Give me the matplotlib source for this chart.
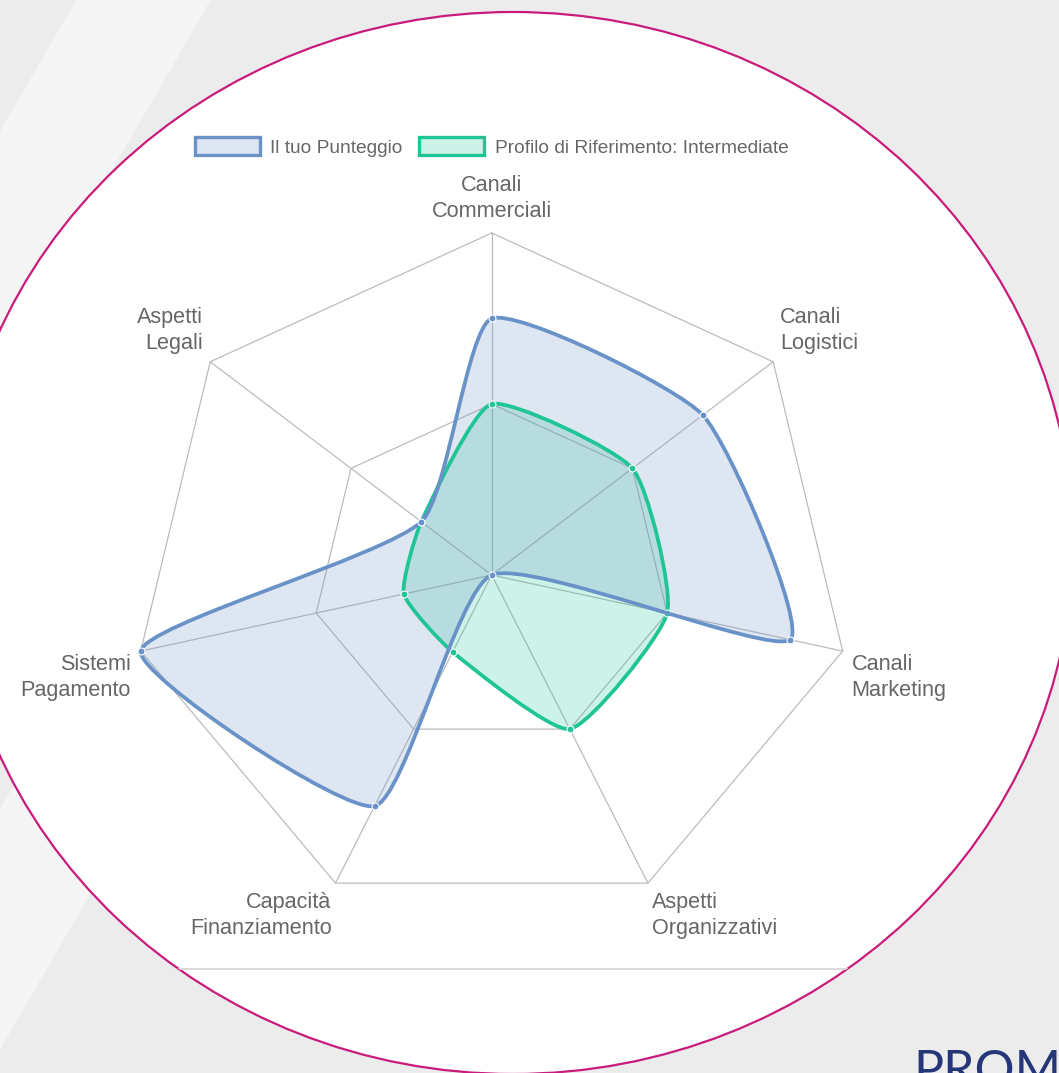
import matplotlib
matplotlib.use("Agg")
import matplotlib.pyplot as plt
from matplotlib.patches import Ellipse, Polygon, PathPatch, Patch
from matplotlib.path import Path
import numpy as np

plt.rcParams["font.family"] = ["Liberation Sans", "DejaVu Sans"]

# --- data -------------------------------------------------------------
CATEGORIES = [
    "Canali\nCommerciali",
    "Canali\nLogistici",
    "Canali\nMarketing",
    "Aspetti\nOrganizzativi",
    "Capacità\nFinanziamento",
    "Sistemi\nPagamento",
    "Aspetti\nLegali",
]
TUO_PUNTEGGIO = [75, 75, 85, 0, 75, 100, 25]
RIFERIMENTO = [50, 50, 50, 50, 25, 25, 25]
RINGS = [50, 100]
SERIES_NAMES = ["Il tuo Punteggio", "Profilo di Riferimento: Intermediate"]

BLUE = "#6892c8"
BLUE_FILL = (0.42, 0.57, 0.78, 0.22)
GREEN = "#1fc595"
GREEN_FILL = (0.12, 0.77, 0.58, 0.22)
GRID = "#bcbcbc"
LABEL = "#666666"

W, H = 1059, 1073
fig = plt.figure(figsize=(W / 100, H / 100), dpi=100)

# --- page background (pixel coordinates) -----------------------------
bg = fig.add_axes([0, 0, 1, 1])
bg.set_xlim(0, W)
bg.set_ylim(H, 0)
bg.axis("off")
bg.add_patch(Polygon([(0, 0), (W, 0), (W, H), (0, H)], color="#ececec", zorder=0))

slope = 0.58
for x0, x1, ytop in [(77, 210, 0), (470, 608, 300)]:
    pts = [(x0 - slope * ytop, ytop), (x1 - slope * ytop, ytop),
           (x1 - slope * H, H), (x0 - slope * H, H)]
    bg.add_patch(Polygon(pts, color="#f5f5f5", zorder=1))

circle = Ellipse((513, 543), 1120, 1062, facecolor="white",
                 edgecolor="#c81b7b", lw=1.6, zorder=2)
bg.add_patch(circle)
sep, = bg.plot([0, W], [969, 969], color="#d8d8d8", lw=1.4, zorder=3)
sep.set_clip_path(circle)

# brand text, cut off by the page edge as in the original
bg.text(913, 1086, "PROM", color="#253778", fontsize=36, family="Lato",
        ha="left", va="baseline", zorder=3)

# --- radar -------------------------------------------------------------
cx, cy, rx, ry = 491.7, 575, 360, 342
ax = fig.add_axes([0, 0, 1, 1], zorder=2)
ax.patch.set_alpha(0)
ax.set_xlim(-cx / rx * 100, (W - cx) / rx * 100)
ax.set_ylim(-(H - cy) / ry * 100, cy / ry * 100)
ax.axis("off")

n = len(CATEGORIES)
theta = 2 * np.pi * np.arange(n) / n
ux, uy = np.sin(theta), np.cos(theta)

for r in RINGS:
    ax.plot(np.append(ux, ux[0]) * r, np.append(uy, uy[0]) * r,
            color=GRID, lw=0.9, zorder=1)
for i in range(n):
    ax.plot([0, ux[i] * RINGS[-1]], [0, uy[i] * RINGS[-1]], color=GRID, lw=0.9, zorder=1)


def spline_path(xs, ys, t=0.18):
    # closed curve with the same control points rule as Chart.js line tension
    pts = np.column_stack([xs, ys])
    m = len(pts)
    cp, cn = [], []
    for i in range(m):
        p0, p1, p2 = pts[i - 1], pts[i], pts[(i + 1) % m]
        d01 = np.hypot(*(p1 - p0))
        d12 = np.hypot(*(p2 - p1))
        tot = d01 + d12
        s01 = d01 / tot if tot else 0
        s12 = d12 / tot if tot else 0
        cp.append(p1 - t * s01 * (p2 - p0))
        cn.append(p1 + t * s12 * (p2 - p0))
    verts = [pts[0]]
    codes = [Path.MOVETO]
    for i in range(m):
        j = (i + 1) % m
        verts += [cn[i], cp[j], pts[j]]
        codes += [Path.CURVE4] * 3
    return Path(verts, codes)


for vals, line, fill, z in [(RIFERIMENTO, GREEN, GREEN_FILL, 3),
                            (TUO_PUNTEGGIO, BLUE, BLUE_FILL, 4)]:
    v = np.array(vals, dtype=float)
    xs, ys = ux * v, uy * v
    path = spline_path(xs, ys)
    ax.add_patch(PathPatch(path, facecolor=fill, edgecolor="none", zorder=z))
    ax.add_patch(PathPatch(path, facecolor="none", edgecolor=line, lw=2.7, zorder=z + 2))
    ax.plot(xs, ys, "o", color=line, ms=5, mec="white", mew=0.8, zorder=z + 3)

# point labels
label_style = [
    (0, 11, "center", "bottom"),
    (7, 8, "left", "bottom"),
    (9, -3, "left", "top"),
    (4, -9, "left", "top"),
    (-4, -9, "right", "top"),
    (-10, -3, "right", "top"),
    (-7, 8, "right", "bottom"),
]
for i, lab in enumerate(CATEGORIES):
    dx, dy, ha, va = label_style[i]
    ax.annotate(lab, (ux[i] * RINGS[-1], uy[i] * RINGS[-1]), xytext=(dx, dy),
                textcoords="offset pixels", ha=ha, va=va, multialignment=ha,
                fontsize=15.6, color=LABEL, linespacing=1.32)

handles = [Patch(facecolor=BLUE_FILL, edgecolor=BLUE, lw=2.4),
           Patch(facecolor=GREEN_FILL, edgecolor=GREEN, lw=2.4)]
leg = fig.legend(handles, SERIES_NAMES, loc="center", ncol=2, frameon=False,
                 bbox_to_anchor=(491.5 / W, 1 - 147 / H), fontsize=13.8,
                 handlelength=3.4, handleheight=1.05, handletextpad=0.55,
                 columnspacing=0.85, labelcolor=LABEL)
leg.set_zorder(5)

fig.savefig("out.png", dpi=100)
